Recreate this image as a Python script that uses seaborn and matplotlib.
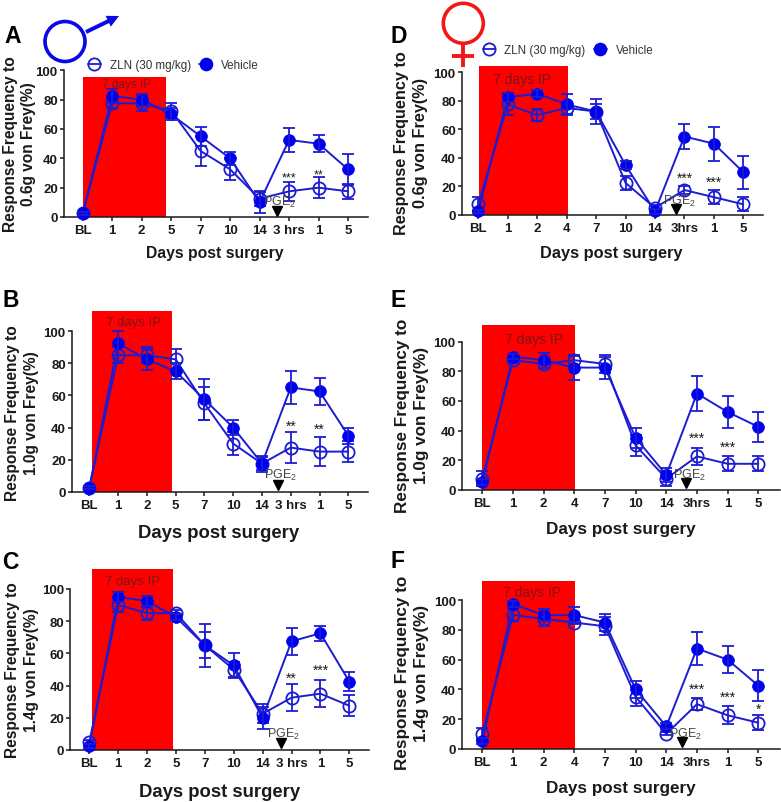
import numpy as np
import pandas as pd
import matplotlib
matplotlib.use("Agg")
import matplotlib.pyplot as plt
import matplotlib.transforms as mtransforms
from matplotlib.lines import Line2D
from matplotlib.patches import Circle, FancyArrow, Rectangle
import seaborn as sns

# === Data ===
labels_male = ["BL", "1", "2", "5", "7", "10", "14", "3 hrs", "1", "5"]
labels_female = ["BL", "1", "2", "4", "7", "10", "14", "3hrs", "1", "5"]

zln_a = [2.5, 77.5, 77.5, 72.5, 45, 32.5, 12.5, 17.5, 20, 17.5]
zln_a_err = [1, 3, 5, 5, 10, 7.5, 5, 6.5, 7, 5]
veh_a = [2.5, 82.5, 80, 70, 55, 40, 10, 52.5, 50, 32.5]
veh_a_err = [1, 5, 4, 4, 6.5, 4.5, 7, 8.5, 6, 10.5]

zln_b = [2.5, 85, 85, 82.5, 55, 30, 17.5, 27.5, 25, 25]
zln_b_err = [1, 5, 5, 6.5, 10.5, 7, 4, 9.5, 9, 6.5]
veh_b = [2.5, 92.5, 82.5, 75, 57.5, 40, 17.5, 65, 62.5, 35]
veh_b_err = [1, 7.5, 6.5, 5, 13, 4.5, 5, 10.5, 8.5, 5]

zln_c = [5, 90, 85, 85, 65, 50, 22.5, 32.5, 35, 27.5]
zln_c_err = [1.5, 4.5, 4, 2, 13.5, 4.5, 6, 8.5, 8.5, 6.5]
veh_c = [2.5, 95, 92.5, 82.5, 65, 52.5, 20, 67.5, 72.5, 42.5]
veh_c_err = [1, 3, 3, 2, 8, 7.5, 7, 8.5, 4.5, 6]

zln_d = [7.5, 77.5, 70, 75, 72.5, 22.5, 5, 17.5, 12.5, 7.5]
zln_d_err = [5, 7.5, 4, 4, 5, 5, 2, 3, 5, 5]
veh_d = [2.5, 82.5, 85, 77.5, 72.5, 35, 2.5, 55, 50, 30]
veh_d_err = [1, 3, 2.5, 7.5, 8.5, 3, 2, 8.5, 12, 11.5]

zln_e = [7.5, 87.5, 85, 87.5, 85, 30, 7.5, 22.5, 17.5, 17.5]
zln_e_err = [5, 2, 2.5, 3, 6, 7, 5, 6, 5, 5]
veh_e = [5, 90, 87.5, 82.5, 82.5, 35, 10, 65, 52.5, 42.5]
veh_e_err = [2, 2, 5, 8.5, 7.5, 6.5, 5, 11.5, 10.5, 10]

zln_f = [10, 90, 87.5, 85, 82.5, 35, 10, 30, 22.5, 17.5]
zln_f_err = [4, 4, 4.5, 1, 6, 6.5, 1, 4, 6, 5]
veh_f = [5, 97.5, 90, 90, 85, 40, 15, 67.5, 60, 42.5]
veh_f_err = [2, 2, 4, 5.5, 6, 5.5, 2, 11, 9, 10.5]

# (tick index, height, text)
stars_a = [(7, 27, "***"), (8, 29, "**")]
stars_b = [(7, 41, "**"), (8, 39.5, "**")]
stars_c = [(7, 44.7, "**"), (8, 49.7, "***")]
stars_d = [(7, 26.4, "***"), (8, 23.6, "***")]
stars_e = [(7, 35, "***"), (8, 29, "***")]
stars_f = [(7, 40.4, "***"), (8, 35, "***"), (9, 26.7, "*")]

# === Panel layout, all in reference pixels ===
panels = {
    "A": dict(zln=zln_a, zln_err=zln_a_err, veh=veh_a, veh_err=veh_a_err, stars=stars_a, labels=labels_male,
              force="0.6g", left=64, right=368, bl=82.7, last=348, y0=218, y100=71.3,
              red=(0, 2.83, 95.6), ip=(1.49, 91), arrow=6.58, pge=6.68,
              letter=(4, 43), ylab=(20, 144), xlab=(215, 253), star_size=7, ip_size=8.5,
              ylab_size=11.2, ylab_gap=1.25, xlab_size=11.3),
    "B": dict(zln=zln_b, zln_err=zln_b_err, veh=veh_b, veh_err=veh_b_err, stars=stars_b, labels=labels_male,
              force="1.0g", left=72, right=368.3, bl=89.3, last=348.3, y0=492.7, y100=332.3,
              red=(0.09, 2.88, 112.8), ip=(1.53, 106), arrow=6.56, pge=6.66,
              letter=(2, 307), ylab=(22, 413), xlab=(218.7, 533), star_size=8, ip_size=9.5,
              ylab_size=11.2, ylab_gap=1.35, xlab_size=13.3),
    "C": dict(zln=zln_c, zln_err=zln_c_err, veh=veh_c, veh_err=veh_c_err, stars=stars_c, labels=labels_male,
              force="1.4g", left=70.4, right=369.3, bl=89.3, last=349.3, y0=751, y100=590,
              red=(0.09, 2.88, 112.4), ip=(1.51, 105), arrow=6.63, pge=6.73,
              letter=(2, 569), ylab=(22, 670), xlab=(219.7, 791.7), star_size=8, ip_size=9.5,
              ylab_size=11.2, ylab_gap=1.35, xlab_size=13.3),
    "D": dict(zln=zln_d, zln_err=zln_d_err, veh=veh_d, veh_err=veh_d_err, stars=stars_d, labels=labels_female,
              force="0.6g", left=462, right=763, bl=478.3, last=743.3, y0=216, y100=73.3,
              red=(0.03, 3.03, 104.2), ip=(1.48, 95.3), arrow=6.72, pge=6.82,
              letter=(391, 43), ylab=(411, 143), xlab=(610.8, 253), star_size=8, ip_size=10,
              ylab_size=11.7, ylab_gap=1.34, xlab_size=11.8),
    "E": dict(zln=zln_e, zln_err=zln_e_err, veh=veh_e, veh_err=veh_e_err, stars=stars_e, labels=labels_female,
              force="1.0g", left=462, right=780, bl=482.3, last=758.3, y0=490.7, y100=342.7,
              red=(0, 3.02, 111.3), ip=(1.7, 101.6), arrow=6.64, pge=6.74,
              letter=(391, 307), ylab=(412, 415.7), xlab=(620.5, 529), star_size=8, ip_size=10,
              ylab_size=12.3, ylab_gap=1.3, xlab_size=12.3),
    "F": dict(zln=zln_f, zln_err=zln_f_err, veh=veh_f, veh_err=veh_f_err, stars=stars_f, labels=labels_female,
              force="1.4g", left=462.3, right=780, bl=482.3, last=758.3, y0=749.7, y100=601.3,
              red=(0, 3.02, 112.8), ip=(1.63, 105.8), arrow=6.51, pge=6.61,
              letter=(391, 568), ylab=(412, 673), xlab=(620.5, 788), star_size=8, ip_size=10,
              ylab_size=12.3, ylab_gap=1.3, xlab_size=12.3),
}

W, H = 781, 803
BLUE = "#0000f0"
LINE = "#1c1cd2"
INK = "#1a1a1a"

sns.set_theme(style="ticks")
plt.rcParams["font.family"] = ["Liberation Sans", "DejaVu Sans"]
plt.rcParams["mathtext.default"] = "regular"

fig = plt.figure(figsize=(W / 100, H / 100), dpi=100)
# top-left pixel coordinates, same as reading the reference
px = mtransforms.Affine2D().scale(1, -1).translate(0, H)

for name, p in panels.items():
    ax = fig.add_axes([p["left"] / W, 1 - p["y0"] / H,
                       (p["right"] - p["left"]) / W, (p["y0"] - p["y100"]) / H])
    ax.patch.set_alpha(0)
    step = (p["last"] - p["bl"]) / 9
    ax.set_xlim((p["left"] - p["bl"]) / step, (p["right"] - p["bl"]) / step)
    ax.set_ylim(0, 100)

    x0, x1, top = p["red"]
    ax.add_patch(Rectangle((x0, 0), x1 - x0, top, color="#ff0000", lw=0, zorder=1, clip_on=False))

    pos = np.arange(10)
    df = pd.DataFrame({"pos": pos, "ZLN": p["zln"], "Vehicle": p["veh"]})

    sns.lineplot(data=df, x="pos", y="ZLN", ax=ax, color=LINE, lw=1.4, errorbar=None, zorder=3,
                 marker="o", ms=8.8, mfc="none", mec=LINE, mew=1.3, clip_on=False)
    ax.errorbar(pos, p["zln"], yerr=p["zln_err"], fmt="none", ecolor=LINE, elinewidth=1.3,
                capsize=4, capthick=1.3, zorder=3, clip_on=False)
    sns.lineplot(data=df, x="pos", y="Vehicle", ax=ax, color=LINE, lw=1.4, errorbar=None, zorder=4,
                 marker="o", ms=8.5, mfc=BLUE, mec=BLUE, mew=0.5, clip_on=False)
    ax.errorbar(pos, p["veh"], yerr=p["veh_err"], fmt="none", ecolor=LINE, elinewidth=1.3,
                capsize=4, capthick=1.3, zorder=4, clip_on=False)

    ax.text(p["ip"][0], p["ip"][1], "7 days IP", color="#7d1416", fontsize=p["ip_size"],
            ha="center", va="center", zorder=5)
    for idx, height, text in p["stars"]:
        ax.text(idx, height, text, color=INK, fontsize=p["star_size"] + 2, ha="center", va="center", zorder=5)

    ax.plot([p["arrow"]], [4.3], marker="v", ms=7.5, color="black", ls="none", zorder=5, clip_on=False)
    ax.text(p["pge"], 10.5, "PGE$_2$", color="#444444", fontsize=9, ha="center", va="center", zorder=5)

    sns.despine(ax=ax)
    ax.spines["left"].set_bounds(0, 100)
    for side in ("left", "bottom"):
        ax.spines[side].set_linewidth(1.1)
        ax.spines[side].set_color(INK)
    ax.set_xticks(pos)
    ax.set_xticklabels(p["labels"], fontweight="bold", fontsize=9.5, color=INK)
    ax.set_yticks([0, 20, 40, 60, 80, 100])
    ax.set_yticklabels(["0", "20", "40", "60", "80", "100"], fontweight="bold", fontsize=9.5, color=INK)
    ax.tick_params(axis="x", length=2.6, width=1.1, pad=2.8, color=INK)
    ax.tick_params(axis="y", length=3, width=1.1, pad=1.5, color=INK)

    ax.set_ylabel(f"Response Frequency to\n{p['force']} von Frey(%)", fontweight="bold", fontsize=p["ylab_size"],
                  color=INK, linespacing=p["ylab_gap"], ha="center", va="center")
    ax.yaxis.set_label_coords(p["ylab"][0], p["ylab"][1], transform=px)
    ax.set_xlabel("Days post surgery", fontweight="bold", fontsize=p["xlab_size"], color=INK, ha="center", va="center")
    ax.xaxis.set_label_coords(p["xlab"][0], p["xlab"][1] + 1, transform=px)

    fig.text(p["letter"][0], p["letter"][1], name, transform=px, fontweight="bold", fontsize=16.5,
             color="black", ha="left", va="baseline")


def legend_for(anchor):
    handles = [
        Line2D([], [], color=LINE, lw=1.3, marker="o", ms=8.8, mfc="none", mec=LINE, mew=1.3),
        Line2D([], [], color=LINE, lw=1.3, marker="o", ms=8.8, mfc=BLUE, mec=BLUE),
    ]
    fig.legend(handles, ["ZLN (30 mg/kg)", "Vehicle"], ncol=2, frameon=False, loc="center left",
               bbox_to_anchor=anchor, bbox_transform=px, fontsize=8.4, handlelength=1.1,
               handletextpad=0.75, columnspacing=0.75, borderaxespad=0, borderpad=0, labelcolor="#333333")


legend_for((88, 66.3))
legend_for((482.5, 50.7))

# === Sex symbols, drawn on a full figure overlay in pixels ===
overlay = fig.add_axes([0, 0, 1, 1], zorder=10)
overlay.set_xlim(0, W)
overlay.set_ylim(H, 0)
overlay.axis("off")

overlay.add_patch(Circle((65, 42.5), 20, fill=False, ec="#0808e8", lw=2.6))
overlay.add_patch(FancyArrow(86, 33, 33, -16, width=4, head_width=12, head_length=12,
                             length_includes_head=True, color="#0808e8", lw=0))

overlay.add_patch(Circle((463.3, 24.3), 20, fill=False, ec="#f01818", lw=2.6))
overlay.plot([463.3, 463.3], [44, 68], color="#f01818", lw=2.8, solid_capstyle="butt")
overlay.plot([452, 474], [57, 57], color="#f01818", lw=2.8, solid_capstyle="butt")

fig.savefig("out.png", dpi=100)
plt.close(fig)
